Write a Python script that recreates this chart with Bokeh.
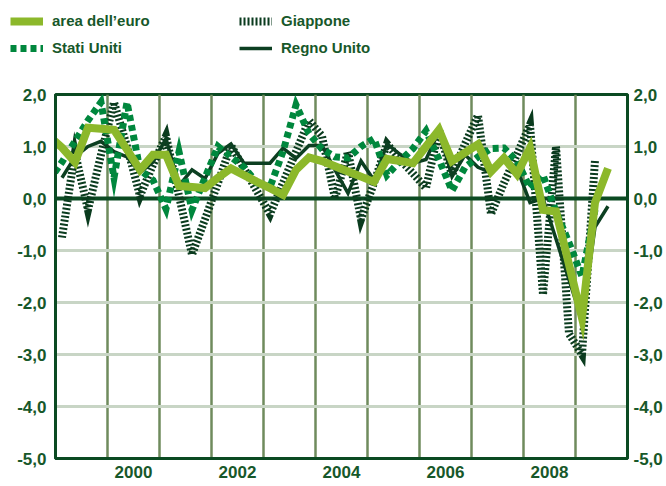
from bokeh.plotting import figure
from bokeh.layouts import column
from bokeh.models import (Range1d, FixedTicker, LinearAxis, Span, Legend,
                          LegendItem, CustomJSTickFormatter, ColumnDataSource)
from bokeh.embed import file_html
from bokeh.resources import INLINE

nan = float("nan")

# Quarters 1998Q4 .. 2009Q3 (quarter-on-quarter % change)
quarters = ["1998Q4"] + [f"{y}Q{q}" for y in range(1999, 2010) for q in range(1, 5)][:43]

euro = [1.20,
        0.98, 0.70, 1.36, 1.34,
        1.32, 0.94, 0.55, 0.84,
        0.84, 0.24, 0.22, 0.20,
        0.40, 0.58, 0.45, 0.32,
        0.20, 0.07, 0.55, 0.79,
        0.72, 0.62, 0.52, 0.42,
        0.32, 0.76, 0.72, 0.68,
        1.00, 1.32, 0.72, 0.88,
        1.04, 0.52, 0.78, 0.47,
        0.97, -0.22, -0.25, -1.27,
        -2.30, -0.08, 0.58]

usa = [0.35,
       0.70, 1.10, 1.50, 1.85,
       0.40, 1.85, 0.55, 0.35,
       -0.20, 0.90, -0.22, 0.40,
       1.00, 0.80, 0.60, 0.30,
       0.22, 0.90, 1.80, 1.25,
       0.95, 0.80, 0.78, 1.00,
       1.15, 0.45, 0.72, 0.96,
       1.30, 0.75, 0.15, 0.60,
       0.80, 0.96, 0.97, 0.72,
       0.20, 0.45, -0.25, -0.85,
       -1.50, -0.22, nan]

japan = [nan,
         -0.75, 0.88, -0.22, 0.84,
         1.85, 1.00, 0.05, 0.65,
         1.20, 0.05, -1.08, -0.40,
         0.30, 1.02, 0.58, 0.14,
         -0.30, 0.30, 0.90, 1.50,
         1.20, 0.00, 0.90, -0.40,
         0.30, 1.05, 0.75, 0.48,
         0.20, 1.32, 0.45, 1.05,
         1.60, -0.30, 0.30, 0.85,
         1.42, -1.85, 1.00, -2.60,
         -3.00, 0.74, nan]

uk = [nan,
      0.40, 0.80, 1.00, 1.10,
      0.90, 0.80, 0.50, 0.70,
      1.15, 0.25, 0.55, 0.38,
      0.87, 1.05, 0.68, 0.68,
      0.68, 0.97, 0.77, 1.02,
      1.02, 0.55, 0.10, 0.72,
      0.35, 1.05, 0.85, 0.68,
      0.75, 1.30, 0.42, 0.84,
      0.60, 0.50, 0.78, 0.58,
      -0.08, 0.00, -0.78, -1.56,
      -2.35, -0.55, -0.15]

y_ticks = [-5, -4, -3, -2, -1, 0, 1, 2]
year_labels = [2000, 2002, 2004, 2006, 2008]
year_grid = list(range(2000, 2010))

labels = ["area dell\u2019euro", "Stati Uniti", "Giappone", "Regno Unito"]

# decimal year at mid-quarter
x = [int(q[:4]) + (int(q[-1]) - 1) / 4 + 0.125 for q in quarters]
src = ColumnDataSource(dict(x=x, euro=euro, usa=usa, japan=japan, uk=uk))

DARK = "#0B4A22"
TEXT = "#17582A"

STYLES = {
    "euro": dict(line_color="#8CB82B", line_width=8, line_join="miter"),
    "usa": dict(line_color="#00873D", line_width=7, line_dash="6 4", line_join="miter"),
    "japan": dict(line_color="#0A3B1E", line_width=8, line_dash="2 2", line_join="miter"),
    "uk": dict(line_color="#0C3F21", line_width=3.5, line_join="miter"),
}

W = 666
LEG_FIG_H = 76
MAIN_H = 410

# ---------------- main chart ----------------
p = figure(width=W, height=MAIN_H,
           x_range=Range1d(1999, 2010), y_range=Range1d(-5, 2),
           output_backend="svg", toolbar_location=None,
           min_border_left=55, min_border_right=39,
           min_border_top=18, min_border_bottom=28,
           background_fill_color="white", border_fill_color="white")

p.outline_line_color = DARK
p.outline_line_width = 3

p.xgrid.ticker = FixedTicker(ticks=year_grid)
p.xgrid.grid_line_color = "#6F8B5D"
p.xgrid.grid_line_width = 2.5
p.ygrid.ticker = FixedTicker(ticks=[t for t in y_ticks if t not in (-5, 0, 2)])
p.ygrid.grid_line_color = "#C8D5C5"
p.ygrid.grid_line_width = 3

p.add_layout(Span(location=0, dimension="width", line_color=DARK,
                  line_width=4, level="underlay"))

yfmt = CustomJSTickFormatter(code="return tick.toFixed(1).replace('.', ',');")
xfmt = CustomJSTickFormatter(code="return Math.floor(tick).toString();")


def style_axis(ax, standoff):
    ax.axis_line_color = DARK
    ax.axis_line_width = 3
    ax.major_tick_line_color = None
    ax.minor_tick_line_color = None
    ax.major_tick_out = 0
    ax.major_tick_in = 0
    ax.minor_tick_out = 0
    ax.minor_tick_in = 0
    ax.major_label_text_font = "Liberation Sans"
    ax.major_label_text_font_style = "bold"
    ax.major_label_text_font_size = "17px"
    ax.major_label_text_color = TEXT
    ax.major_label_standoff = standoff


p.yaxis.ticker = FixedTicker(ticks=y_ticks)
p.yaxis.formatter = yfmt
style_axis(p.yaxis[0], 9)

right = LinearAxis(ticker=FixedTicker(ticks=y_ticks), formatter=yfmt)
style_axis(right, 6)
p.add_layout(right, "right")

p.xaxis.ticker = FixedTicker(ticks=[y + 0.5 for y in year_labels])
p.xaxis.formatter = xfmt
style_axis(p.xaxis[0], 7)

for key in ["japan", "uk", "usa", "euro"]:
    p.line("x", key, source=src, **STYLES[key])

# ---------------- legend strip ----------------
lf = figure(width=W, height=LEG_FIG_H,
            x_range=Range1d(0, 1), y_range=Range1d(0, 1),
            x_axis_type=None, y_axis_type=None,
            output_backend="svg", toolbar_location=None,
            min_border_left=0, min_border_right=0,
            min_border_top=0, min_border_bottom=0,
            background_fill_color="white", border_fill_color="white")
lf.outline_line_color = None
lf.xgrid.visible = False
lf.ygrid.visible = False

aligned = True
try:
    lf.frame_align = False
    p.frame_align = False
    aligned = False
except Exception:
    aligned = True

leg_r = {}
for key in ["euro", "usa", "japan", "uk"]:
    # same series, outside this strip's ranges: only the legend keys show
    leg_r[key] = lf.line("x", key, source=src, **STYLES[key])

LEG_H = 47
LEG_TOP = 10.5
leg_x = 10 if not aligned else 10 - 55
legend = Legend(items=[LegendItem(label=labels[0], renderers=[leg_r["euro"]]),
                       LegendItem(label=labels[1], renderers=[leg_r["usa"]]),
                       LegendItem(label=labels[2], renderers=[leg_r["japan"]]),
                       LegendItem(label=labels[3], renderers=[leg_r["uk"]])],
                location=(leg_x, LEG_FIG_H - LEG_TOP - LEG_H),
                orientation="vertical", nrows=2,
                glyph_width=33, glyph_height=20, label_height=20,
                label_width=180, label_standoff=9, spacing=7,
                padding=0, margin=0, border_line_color=None,
                background_fill_alpha=0,
                label_text_font="Liberation Sans",
                label_text_font_style="bold",
                label_text_font_size="15px",
                label_text_color=TEXT)
lf.add_layout(legend, "center")

layout = column(lf, p, spacing=0)

with open("out.html", "w", encoding="utf-8") as f:
    f.write(file_html(layout, INLINE))
